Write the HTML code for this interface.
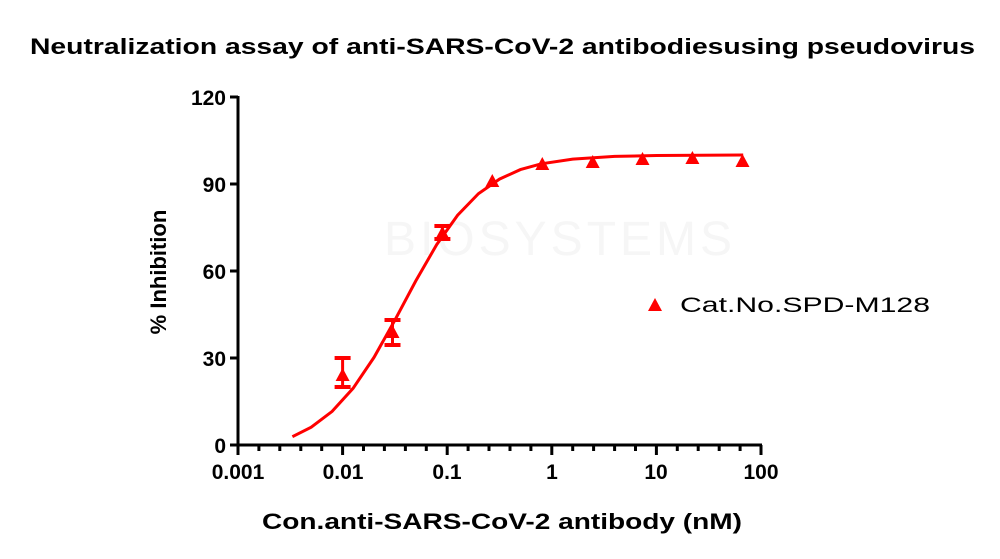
<!DOCTYPE html>
<html><head><meta charset="utf-8"><style>
body{margin:0;background:#fff;}
svg{display:block;font-family:"Liberation Sans",Arial,sans-serif;}
</style></head><body>
<svg width="1000" height="559" viewBox="0 0 1000 559" xmlns="http://www.w3.org/2000/svg">
<text x="560" y="255" font-size="48" fill="#f6f6f6" text-anchor="middle" letter-spacing="4">BIOSYSTEMS</text>
<text x="30" y="54" font-size="22" font-weight="bold" fill="#000" textLength="945" lengthAdjust="spacingAndGlyphs">Neutralization assay of anti-SARS-CoV-2 antibodiesusing pseudovirus</text>
<g stroke="#000" stroke-width="3" fill="none">
<line x1="238" y1="96" x2="238" y2="446"/>
<line x1="237" y1="445" x2="762" y2="445"/>
<line x1="230" y1="97" x2="238" y2="97"/>
<line x1="230" y1="184" x2="238" y2="184"/>
<line x1="230" y1="271" x2="238" y2="271"/>
<line x1="230" y1="358" x2="238" y2="358"/>
<line x1="230" y1="445" x2="238" y2="445"/>
<path d="M238,445V455M342.6,445V455M447.2,445V455M551.8,445V455M656.4,445V455M761,445V455
M258.9,445v6M279.8,445v6M300.8,445v6M321.7,445v6
M363.5,445v6M384.4,445v6M405.4,445v6M426.3,445v6
M468.1,445v6M489,445v6M510,445v6M530.9,445v6
M572.7,445v6M593.6,445v6M614.6,445v6M635.5,445v6
M677.3,445v6M698.2,445v6M719.2,445v6M740.1,445v6"/>
</g>
<g font-size="21" font-weight="bold" text-anchor="end" fill="#000">
<text x="226" y="105">120</text>
<text x="226" y="192">90</text>
<text x="226" y="279">60</text>
<text x="226" y="366">30</text>
<text x="226" y="453">0</text>
</g>
<g font-size="21" font-weight="bold" text-anchor="middle" fill="#000">
<text x="238" y="479">0.001</text>
<text x="343" y="479">0.01</text>
<text x="447" y="479">0.1</text>
<text x="552" y="479">1</text>
<text x="656" y="479">10</text>
<text x="761" y="479">100</text>
</g>
<text x="262" y="529" font-size="22" font-weight="bold" textLength="480" lengthAdjust="spacingAndGlyphs">Con.anti-SARS-CoV-2 antibody (nM)</text>
<text transform="translate(166,272) rotate(-90)" font-size="22" font-weight="bold" text-anchor="middle">% Inhibition</text>
<path fill="none" stroke="#ff0000" stroke-width="3" d="M292.4,436.7L311.2,427.2L332.1,411.4L353.1,388.3L374,357.4L394.9,320.1L415.8,280.9L436.7,244.6L457.6,215.2L478.5,193.6L499.5,179.1L520.4,169.6L541.3,163.8L572.7,159.1L614.6,156.4L656.4,155.5L743.2,155"/>
<g fill="#ff0000" stroke="#ff0000">
<line x1="342.6" y1="358" x2="342.6" y2="387" stroke-width="3"/><line x1="334.6" y1="358" x2="350.6" y2="358" stroke-width="4"/><line x1="334.6" y1="387" x2="350.6" y2="387" stroke-width="4"/>
<line x1="392.5" y1="320" x2="392.5" y2="345" stroke-width="3"/><line x1="384.5" y1="320" x2="400.5" y2="320" stroke-width="4"/><line x1="384.5" y1="345" x2="400.5" y2="345" stroke-width="4"/>
<line x1="442.4" y1="226" x2="442.4" y2="239" stroke-width="3"/><line x1="434.4" y1="226" x2="450.4" y2="226" stroke-width="4"/><line x1="434.4" y1="239" x2="450.4" y2="239" stroke-width="4"/>
</g>
<g fill="#ff0000">
<polygon points="342.6,368 349.6,381 335.6,381"/>
<polygon points="392.5,325 399.5,338 385.5,338"/>
<polygon points="442.4,226 449.4,239 435.4,239"/>
<polygon points="492.3,174 499.3,187 485.3,187"/>
<polygon points="542.3,157 549.3,170 535.3,170"/>
<polygon points="592.7,155 599.7,168 585.7,168"/>
<polygon points="642.5,152 649.5,165 635.5,165"/>
<polygon points="692.4,151 699.4,164 685.4,164"/>
<polygon points="742.5,154 749.5,167 735.5,167"/>
<polygon points="655,298 662,311 648,311"/>
</g>
<text x="680" y="312" font-size="21" fill="#000" textLength="250" lengthAdjust="spacingAndGlyphs">Cat.No.SPD-M128</text>
</svg>
</body></html>
